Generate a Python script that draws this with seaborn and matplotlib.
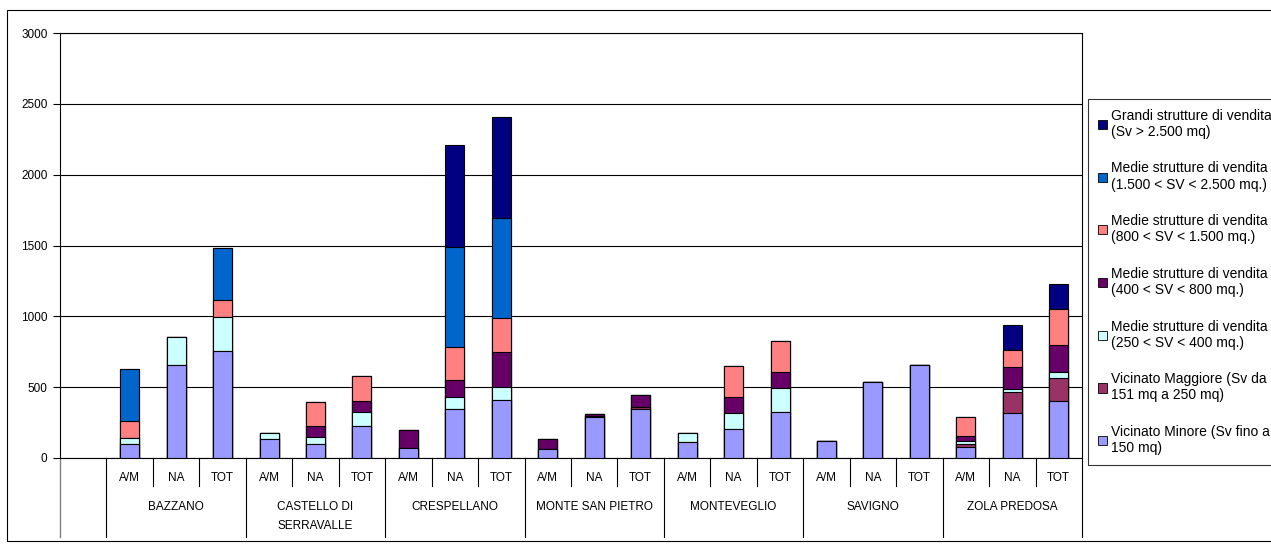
import numpy as np
import pandas as pd
import seaborn as sns
import matplotlib.pyplot as plt
from matplotlib.patches import Patch, Rectangle
from matplotlib.transforms import blended_transform_factory

# comuni e tipi di colonna
comuni = ['BAZZANO', 'CASTELLO DI\nSERRAVALLE', 'CRESPELLANO', 'MONTE SAN PIETRO',
          'MONTEVEGLIO', 'SAVIGNO', 'ZOLA PREDOSA']
tipi = ['A/M', 'NA', 'TOT']

# valori per strato (dal basso verso l'alto), 3 barre per comune
vicinato_minore = [100, 656, 756, 132, 97, 229, 68, 344, 412, 61, 287, 348,
                   115, 207, 322, 122, 534, 656, 80, 320, 400]
vicinato_maggiore = [0, 0, 0, 0, 0, 0, 0, 0, 0, 5, 8, 13,
                     0, 0, 0, 0, 0, 0, 20, 144, 164]
medie_250_400 = [38, 198, 236, 47, 49, 96, 0, 84, 86, 0, 0, 0,
                 61, 113, 174, 0, 0, 0, 18, 25, 43]
medie_400_800 = [0, 0, 0, 0, 82, 80, 130, 123, 253, 66, 15, 81,
                 0, 113, 110, 0, 0, 0, 38, 156, 194]
medie_800_1500 = [123, 0, 121, 0, 169, 171, 0, 235, 236, 0, 0, 0,
                  0, 216, 220, 0, 0, 0, 132, 115, 248]
medie_1500_2500 = [367, 0, 367, 0, 0, 0, 0, 706, 708, 0, 0, 0,
                   0, 0, 0, 0, 0, 0, 0, 0, 0]
grandi = [0, 0, 0, 0, 0, 0, 0, 715, 715, 0, 0, 0,
          0, 0, 0, 0, 0, 0, 0, 181, 180]

labels = ['Vicinato Minore (Sv fino a\n150 mq)',
          'Vicinato Maggiore (Sv da\n151 mq a 250 mq)',
          'Medie strutture di vendita\n(250 < SV < 400 mq.)',
          'Medie strutture di vendita\n(400 < SV < 800 mq.)',
          'Medie strutture di vendita\n(800 < SV < 1.500 mq.)',
          'Medie strutture di vendita\n(1.500 < SV < 2.500 mq.)',
          'Grandi strutture di vendita\n(Sv > 2.500 mq)']
colors = ['#9999FF', '#993366', '#CCFFFF', '#660066', '#FF8080', '#0066CC', '#000080']
layers = [vicinato_minore, vicinato_maggiore, medie_250_400, medie_400_800,
          medie_800_1500, medie_1500_2500, grandi]

plt.rcParams['font.family'] = ['Liberation Sans Narrow', 'Liberation Sans', 'DejaVu Sans']
plt.rcParams['font.size'] = 8.5

keys = [f'{c}|{t}' for c in comuni for t in tipi]
order = [' '] + keys

fig = plt.figure(figsize=(12.71, 5.44), dpi=100)
ax = fig.add_axes([60 / 1271, 86 / 544, 1022 / 1271, 425 / 544])

cum = np.cumsum(np.array(layers), axis=0)
for i in range(len(layers) - 1, -1, -1):
    sns.barplot(x=keys, y=cum[i], order=order, color=colors[i], saturation=1,
                width=0.41, edgecolor='black', linewidth=0.8, ax=ax, zorder=3)

ax.set_xlim(-0.5, len(order) - 0.5)
ax.set_ylim(0, 3000)
ax.set_yticks(range(0, 3001, 500))
ax.grid(axis='y', color='black', linewidth=0.8, zorder=0)
ax.set_axisbelow(True)
ax.tick_params(axis='x', length=0, labelbottom=False)
ax.tick_params(axis='y', length=5, width=0.8, direction='out', pad=4)
ax.set_xlabel('')
ax.set_ylabel('')
for s in ax.spines.values():
    s.set_color('black')
    s.set_linewidth(0.8)

# etichette e separatori sotto l'asse
tr = blended_transform_factory(ax.transData, ax.transAxes)
ax.plot([-0.5, -0.5], [0, -0.186], transform=tr, color='gray', lw=1, clip_on=False)
for j in range(len(keys)):
    xpos = j + 1
    ax.text(xpos, -0.046, tipi[j % 3], transform=tr, ha='center', va='center')
    edge = xpos + 0.5
    if j % 3 == 2:
        ax.plot([edge, edge], [0, -0.186], transform=tr, color='black', lw=0.8, clip_on=False)
    else:
        ax.plot([edge, edge], [0, -0.066], transform=tr, color='black', lw=0.8, clip_on=False)
ax.plot([0.5, 0.5], [0, -0.186], transform=tr, color='black', lw=0.8, clip_on=False)
for g, name in enumerate(comuni):
    ax.text(3 * g + 2, -0.1, name, transform=tr, ha='center', va='top',
            linespacing=1.85)

# legenda
handles = [Patch(facecolor=colors[i], edgecolor='black', linewidth=0.6, label=labels[i])
           for i in range(len(layers) - 1, -1, -1)]
leg = fig.legend(handles=handles, loc='upper left', bbox_to_anchor=(1088 / 1271, 1 - 99 / 544),
                 frameon=True, fancybox=False, edgecolor='black', fontsize=10,
                 handlelength=0.65, handleheight=0.65, handletextpad=0.3,
                 labelspacing=1.62, borderpad=0.7, borderaxespad=0)
leg.get_frame().set_linewidth(0.8)

# cornice esterna
fig.add_artist(Rectangle((7 / 1271, 3 / 544), 1.0, 531 / 544, transform=fig.transFigure,
                         fill=False, edgecolor='black', linewidth=0.8))

fig.savefig('out.png', dpi=100)
